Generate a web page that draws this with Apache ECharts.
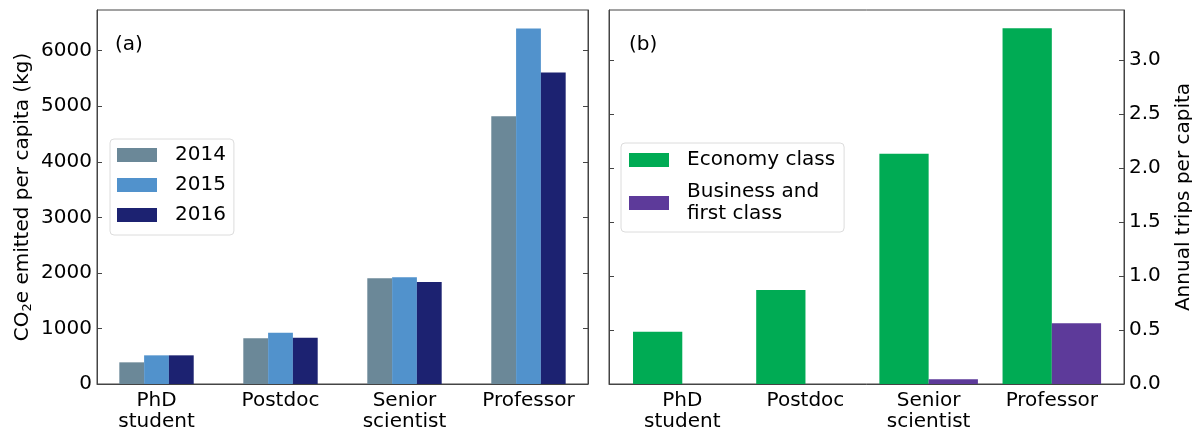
<!DOCTYPE html>
<html>
<head>
<meta charset="utf-8">
<script src="https://cdn.jsdelivr.net/npm/echarts@6/dist/echarts.min.js"></script>
<style>html,body{margin:0;padding:0;background:#fff;}#chart{width:1192px;height:429px;}</style>
</head>
<body>
<div id="chart"></div>
<script>
// ---- data ----
const categories = ['PhD\nstudent', 'Postdoc', 'Senior\nscientist', 'Professor'];
const co2_2014 = [390, 822, 1902, 4818];
const co2_2015 = [516, 924, 1920, 6402];
const co2_2016 = [516, 834, 1836, 5610];
const tripsEconomy = [0.484, 0.870, 2.132, 3.293];
const tripsBusiness = [0, 0, 0.043, 0.562];
const yTicksA = [0, 1000, 2000, 3000, 4000, 5000, 6000];
const yTicksB = [0, 0.5, 1.0, 1.5, 2.0, 2.5, 3.0];
const catIdx = [0, 1, 2, 3];

const FONT = 'DejaVu Sans';
const FS = 20;
const AX = '#444';
const TXT = '#000';
const toPts = arr => arr.map((v, i) => [catIdx[i], v]);

const chart = echarts.init(document.getElementById('chart'), null, {renderer: 'canvas'});

function xAxisCfg(grid, min, max) {
  return {
    type: 'value', gridIndex: grid, min: min, max: max, z: 5,
    axisLine: {show: true, onZero: false, lineStyle: {color: AX, width: 1}},
    axisTick: {show: false},
    splitLine: {show: false},
    axisLabel: {
      customValues: catIdx, margin: 6, color: TXT, fontFamily: FONT, fontSize: FS, lineHeight: 21,
      formatter: v => categories[Math.round(v)]
    }
  };
}

function yAxisCfg(grid, pos, max, ticks, showLabels, fmt) {
  return {
    type: 'value', gridIndex: grid, position: pos, min: 0, max: max, z: 5,
    axisLine: {show: true, onZero: false, lineStyle: {color: AX, width: 1}},
    axisTick: {show: true, inside: true, length: 5, customValues: ticks, lineStyle: {color: AX}},
    splitLine: {show: false},
    axisLabel: {show: showLabels, customValues: ticks, margin: 5, color: TXT, fontFamily: FONT, fontSize: FS, formatter: fmt}
  };
}

const yA = yAxisCfg(0, 'left', 6733, yTicksA, true, v => String(v));
yA.name = 'CO{s|2}e emitted per capita (kg)';
yA.nameLocation = 'middle';
yA.nameRotate = 90;
yA.nameGap = 63;
yA.nameTextStyle = {color: TXT, fontFamily: FONT, fontSize: FS, lineHeight: 23,
  rich: {s: {fontFamily: FONT, fontSize: 13, color: TXT, verticalAlign: 'bottom', lineHeight: 13}}};

const yBR = yAxisCfg(1, 'right', 3.463, yTicksB, true, v => v.toFixed(1));
yBR.name = 'Annual trips per capita';
yBR.nameLocation = 'middle';
yBR.nameRotate = 90;
yBR.nameGap = 50;
yBR.nameTextStyle = {color: TXT, fontFamily: FONT, fontSize: FS};

const legendBase = {
  orient: 'vertical', icon: 'rect', itemWidth: 40, itemHeight: 14,
  borderColor: '#dcdcdc', borderWidth: 1, borderRadius: 4, backgroundColor: 'rgba(255,255,255,0.8)'
};

const option = {
  backgroundColor: '#fff',
  animation: false,
  textStyle: {fontFamily: FONT},
  title: [
    {text: '(a)', left: 115, top: 35, padding: 0, textStyle: {fontFamily: FONT, fontSize: FS, fontWeight: 'normal', color: TXT}},
    {text: '(b)', left: 629, top: 35, padding: 0, textStyle: {fontFamily: FONT, fontSize: FS, fontWeight: 'normal', color: TXT}}
  ],
  grid: [
    {left: 97, top: 10, width: 491, height: 374, show: true, borderColor: AX, borderWidth: 1, containLabel: false, outerBoundsMode: 'none'},
    {left: 609, top: 10, width: 515, height: 374, show: true, borderColor: AX, borderWidth: 1, containLabel: false, outerBoundsMode: 'none'}
  ],
  xAxis: [xAxisCfg(0, -0.48, 3.48), xAxisCfg(1, -0.595, 3.586)],
  yAxis: [
    yA,
    yAxisCfg(0, 'right', 6733, yTicksA, false),
    yAxisCfg(1, 'left', 3.463, yTicksB, false),
    yBR
  ],
  legend: [
    Object.assign({}, legendBase, {
      data: ['2014', '2015', '2016'], left: 110, top: 139, itemGap: 6, padding: [4, 8, 8, 7],
      textStyle: {fontFamily: FONT, fontSize: FS, color: TXT, lineHeight: 24, padding: [0, 0, 0, 13]}
    }),
    Object.assign({}, legendBase, {
      data: ['Economy class', 'Business and\nfirst class'], left: 621, top: 143, itemGap: 10, padding: [6, 9, 7, 8],
      textStyle: {fontFamily: FONT, fontSize: FS, color: TXT, lineHeight: 22, padding: [0, 0, 0, 13]}
    })
  ],
  series: [
    {name: '2014', type: 'bar', xAxisIndex: 0, yAxisIndex: 0, barWidth: '20%', barGap: '0%', itemStyle: {color: '#6b8898'}, data: toPts(co2_2014)},
    {name: '2015', type: 'bar', xAxisIndex: 0, yAxisIndex: 0, barWidth: '20%', barGap: '0%', itemStyle: {color: '#5192cc'}, data: toPts(co2_2015)},
    {name: '2016', type: 'bar', xAxisIndex: 0, yAxisIndex: 0, barWidth: '20%', barGap: '0%', itemStyle: {color: '#1c2271'}, data: toPts(co2_2016)},
    {name: 'Economy class', type: 'bar', xAxisIndex: 1, yAxisIndex: 3, barWidth: '40%', barGap: '0%', itemStyle: {color: '#00ab54'}, data: toPts(tripsEconomy)},
    {name: 'Business and\nfirst class', type: 'bar', xAxisIndex: 1, yAxisIndex: 3, barWidth: '40%', barGap: '0%', itemStyle: {color: '#5d3a9a'}, data: toPts(tripsBusiness)}
  ]
};
chart.setOption(option);
</script>
</body>
</html>
